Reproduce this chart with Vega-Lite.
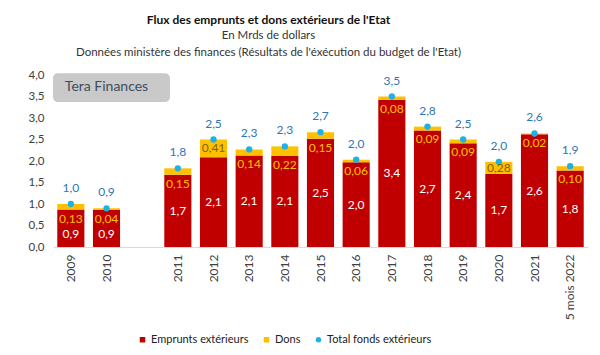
{
  "$schema": "https://vega.github.io/schema/vega-lite/v6.json",
  "width": 535,
  "height": 172,
  "autosize": {"type": "none"},
  "padding": {"left": 53, "top": 75, "right": 12, "bottom": 108},
  "background": "white",
  "config": {
    "font": "Lato",
    "view": {"stroke": null},
    "numberFormat": ".1f",
    "locale": {"number": {"decimal": ",", "thousands": " ", "grouping": [3], "currency": ["", " €"]}},
    "axisY": {
      "tickCount": 8,
      "domain": false,
      "ticks": false,
      "grid": false,
      "labelOverlap": false,
      "labelPadding": 9,
      "labelFontSize": 11.5,
      "labelColor": "#404040",
      "labelFont": "Lato"
    }
  },
  "title": {
    "text": "Flux des emprunts et dons extérieurs de l'Etat",
    "subtitle": ["En Mrds de dollars", "Données ministère des finances (Résultats de l'éxécution du budget de l'Etat)"],
    "anchor": "middle",
    "frame": "group",
    "dx": -52,
    "fontSize": 12,
    "fontWeight": "bold",
    "color": "#111111",
    "subtitleFontSize": 11.5,
    "subtitleColor": "#333333",
    "subtitlePadding": 3,
    "subtitleLineHeight": 17,
    "offset": 10
  },
  "data": {
    "values": [
      {"annee": "2009", "emprunts": 0.87, "dons": 0.13, "total": 1.00},
      {"annee": "2010", "emprunts": 0.86, "dons": 0.04, "total": 0.90},
      {"annee": "2011", "emprunts": 1.68, "dons": 0.15, "total": 1.83},
      {"annee": "2012", "emprunts": 2.09, "dons": 0.41, "total": 2.50},
      {"annee": "2013", "emprunts": 2.13, "dons": 0.14, "total": 2.27},
      {"annee": "2014", "emprunts": 2.12, "dons": 0.22, "total": 2.34},
      {"annee": "2015", "emprunts": 2.52, "dons": 0.15, "total": 2.67},
      {"annee": "2016", "emprunts": 1.97, "dons": 0.06, "total": 2.03},
      {"annee": "2017", "emprunts": 3.42, "dons": 0.08, "total": 3.50},
      {"annee": "2018", "emprunts": 2.71, "dons": 0.09, "total": 2.80},
      {"annee": "2019", "emprunts": 2.41, "dons": 0.09, "total": 2.50},
      {"annee": "2020", "emprunts": 1.70, "dons": 0.28, "total": 1.98},
      {"annee": "2021", "emprunts": 2.62, "dons": 0.02, "total": 2.64},
      {"annee": "5 mois 2022", "emprunts": 1.78, "dons": 0.10, "total": 1.88}
    ]
  },
  "encoding": {
    "x": {
      "field": "annee",
      "type": "nominal",
      "title": null,
      "scale": {
        "domain": ["2009", "2010", "gap", "2011", "2012", "2013", "2014", "2015", "2016", "2017", "2018", "2019", "2020", "2021", "5 mois 2022"],
        "paddingInner": 0.24,
        "paddingOuter": 0.12
      },
      "axis": {
        "labelAngle": -90,
        "labelExpr": "datum.value == 'gap' ? '' : datum.value",
        "ticks": false,
        "domainColor": "#d9d9d9",
        "domainWidth": 1,
        "labelPadding": 7,
        "labelFontSize": 12,
        "labelColor": "#404040",
        "labelFont": "Lato"
      }
    }
  },
  "layer": [
    {
      "transform": [{"fold": ["emprunts", "dons"], "as": ["serie", "valeur"]}],
      "mark": {"type": "bar"},
      "encoding": {
        "y": {
          "field": "valeur",
          "type": "quantitative",
          "stack": "zero",
          "title": null,
          "scale": {"domain": [0, 4], "nice": false}
        },
        "color": {
          "field": "serie",
          "type": "nominal",
          "scale": {"domain": ["emprunts", "dons", "total"], "range": ["#c00000", "#ffc000", "#1eb1e7"]},
          "legend": {
            "orient": "none",
            "legendX": 84,
            "legendY": 259,
            "direction": "horizontal",
            "title": null,
            "labelExpr": "datum.value == 'emprunts' ? 'Emprunts extérieurs' : datum.value == 'dons' ? 'Dons' : 'Total fonds extérieurs'",
            "labelFontSize": 11,
            "labelColor": "#222222",
            "labelFont": "Lato",
            "symbolSize": 30,
            "columnPadding": 12,
            "labelOffset": 3,
            "encode": {"symbols": {"update": {"shape": {"signal": "datum.value == 'total' ? 'circle' : 'square'"}}}}
          }
        },
        "order": {"field": "serie", "sort": "descending"}
      }
    },
    {
      "data": {"values": [{}]},
      "mark": {"type": "rect", "color": "#c9c9c9", "cornerRadius": 5, "clip": false},
      "encoding": {
        "x": {"datum": "2009", "bandPosition": -0.16},
        "x2": {"datum": "2011", "bandPosition": 0.21},
        "y": {"datum": 4.04, "type": "quantitative", "title": null},
        "y2": {"datum": 3.37}
      }
    },
    {
      "data": {"values": [{}]},
      "mark": {"type": "text", "text": "Tera Finances", "fontSize": 14, "color": "#3f4d63", "align": "center", "baseline": "middle"},
      "encoding": {
        "x": {"datum": "2010"},
        "y": {"datum": 3.71, "type": "quantitative", "title": null}
      }
    },
    {
      "mark": {"type": "point", "filled": true, "opacity": 1, "size": 40},
      "encoding": {
        "y": {"field": "total", "type": "quantitative", "title": null},
        "color": {"datum": "total"}
      }
    },
    {
      "mark": {"type": "text", "dy": -16, "fontSize": 12, "color": "#2e75b6", "baseline": "middle"},
      "encoding": {
        "y": {"field": "total", "type": "quantitative", "title": null},
        "text": {"field": "total", "type": "quantitative", "format": ".1f"}
      }
    },
    {
      "transform": [{"calculate": "datum.emprunts < 1 ? 0.3 : datum.emprunts / 2", "as": "milieu"}],
      "mark": {"type": "text", "fontSize": 12, "color": "white", "baseline": "middle"},
      "encoding": {
        "y": {"field": "milieu", "type": "quantitative", "title": null},
        "text": {"field": "emprunts", "type": "quantitative", "format": ".1f"}
      }
    },
    {
      "transform": [{"filter": "datum.dons < 0.25"}],
      "mark": {"type": "text", "dy": 9, "fontSize": 12, "color": "#ffc000", "baseline": "middle"},
      "encoding": {
        "y": {"field": "emprunts", "type": "quantitative", "title": null},
        "text": {"field": "dons", "type": "quantitative", "format": ".2f"}
      }
    },
    {
      "transform": [{"filter": "datum.dons >= 0.25"}, {"calculate": "datum.emprunts + datum.dons / 2", "as": "milieuDons"}],
      "mark": {"type": "text", "fontSize": 12, "color": "#7f6000", "baseline": "middle"},
      "encoding": {
        "y": {"field": "milieuDons", "type": "quantitative", "title": null},
        "text": {"field": "dons", "type": "quantitative", "format": ".2f"}
      }
    }
  ]
}
